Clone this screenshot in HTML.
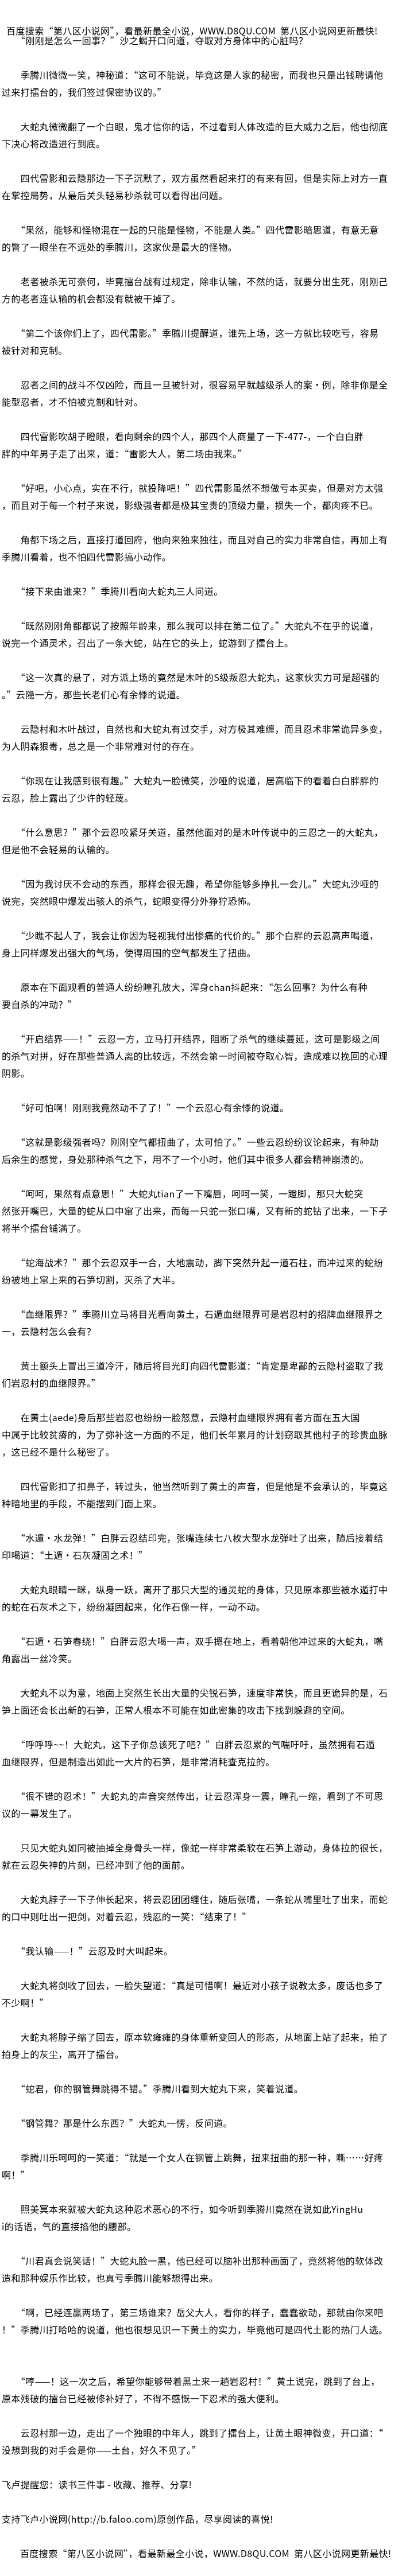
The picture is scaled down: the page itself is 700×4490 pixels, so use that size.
<!DOCTYPE html>
<html><head><meta charset="utf-8">
<style>
html,body{margin:0;padding:0;background:#fff;}
body{width:700px;height:4490px;position:relative;overflow:hidden;color:#000;
font-family:"Noto Sans CJK SC","Liberation Sans","WenQuanYi Zen Hei",sans-serif;font-size:16px;letter-spacing:0.4px;}
.hd{position:absolute;left:11px;top:38px;line-height:30px;white-space:pre;}
.tx{position:absolute;left:3px;top:55px;line-height:30px;white-space:pre;}
</style></head>
<body>
<div class="hd">百度搜索“第八区小说网”，看最新最全小说，WWW.D8QU.COM  第八区小说网更新最快!</div>
<div class="tx">　　“刚刚是怎么一回事？”沙之蝎开口问道，夺取对方身体中的心脏吗？

　　季腾川微微一笑，神秘道：“这可不能说，毕竟这是人家的秘密，而我也只是出钱聘请他
过来打擂台的，我们签过保密协议的。”

　　大蛇丸微微翻了一个白眼，鬼才信你的话，不过看到人体改造的巨大威力之后，他也彻底
下决心将改造进行到底。

　　四代雷影和云隐那边一下子沉默了，双方虽然看起来打的有来有回，但是实际上对方一直
在掌控局势，从最后关头轻易秒杀就可以看得出问题。

　　“果然，能够和怪物混在一起的只能是怪物，不能是人类。”四代雷影暗思道，有意无意
的瞥了一眼坐在不远处的季腾川，这家伙是最大的怪物。

　　老者被杀无可奈何，毕竟擂台战有过规定，除非认输，不然的话，就要分出生死，刚刚己
方的老者连认输的机会都没有就被干掉了。

　　“第二个该你们上了，四代雷影。”季腾川提醒道，谁先上场，这一方就比较吃亏，容易
被针对和克制。

　　忍者之间的战斗不仅凶险，而且一旦被针对，很容易早就越级杀人的案·例，除非你是全
能型忍者，才不怕被克制和针对。

　　四代雷影吹胡子瞪眼，看向剩余的四个人，那四个人商量了一下-477-，一个白白胖
胖的中年男子走了出来，道：“雷影大人，第二场由我来。”

　　“好吧，小心点，实在不行，就投降吧！”四代雷影虽然不想做亏本买卖，但是对方太强
，而且对于每一个村子来说，影级强者都是极其宝贵的顶级力量，损失一个，都肉疼不已。

　　角都下场之后，直接打道回府，他向来独来独往，而且对自己的实力非常自信，再加上有
季腾川看着，也不怕四代雷影搞小动作。

　　“接下来由谁来？”季腾川看向大蛇丸三人问道。

　　“既然刚刚角都都说了按照年龄来，那么我可以排在第二位了。”大蛇丸不在乎的说道，
说完一个通灵术，召出了一条大蛇，站在它的头上，蛇游到了擂台上。

　　“这一次真的悬了，对方派上场的竟然是木叶的S级叛忍大蛇丸，这家伙实力可是超强的
。”云隐一方，那些长老们心有余悸的说道。

　　云隐村和木叶战过，自然也和大蛇丸有过交手，对方极其难缠，而且忍术非常诡异多变，
为人阴森狠毒，总之是一个非常难对付的存在。

　　“你现在让我感到很有趣。”大蛇丸一脸微笑，沙哑的说道，居高临下的看着白白胖胖的
云忍，脸上露出了少许的轻蔑。

　　“什么意思？”那个云忍咬紧牙关道，虽然他面对的是木叶传说中的三忍之一的大蛇丸，
但是他不会轻易的认输的。

　　“因为我讨厌不会动的东西，那样会很无趣，希望你能够多挣扎一会儿。”大蛇丸沙哑的
说完，突然眼中爆发出骇人的杀气，蛇眼变得分外狰狞恐怖。

　　“少瞧不起人了，我会让你因为轻视我付出惨痛的代价的。”那个白胖的云忍高声喝道，
身上同样爆发出强大的气场，使得周围的空气都发生了扭曲。

　　原本在下面观看的普通人纷纷瞳孔放大，浑身chan抖起来：“怎么回事？为什么有种
要自杀的冲动？”

　　“开启结界——！”云忍一方，立马打开结界，阻断了杀气的继续蔓延，这可是影级之间
的杀气对拼，好在那些普通人离的比较远，不然会第一时间被夺取心智，造成难以挽回的心理
阴影。

　　“好可怕啊！刚刚我竟然动不了了！”一个云忍心有余悸的说道。

　　“这就是影级强者吗？刚刚空气都扭曲了，太可怕了。”一些云忍纷纷议论起来，有种劫
后余生的感觉，身处那种杀气之下，用不了一个小时，他们其中很多人都会精神崩溃的。

　　“呵呵，果然有点意思！”大蛇丸tian了一下嘴唇，呵呵一笑，一蹬脚，那只大蛇突
然张开嘴巴，大量的蛇从口中窜了出来，而每一只蛇一张口嘴，又有新的蛇钻了出来，一下子
将半个擂台铺满了。

　　“蛇海战术？”那个云忍双手一合，大地震动，脚下突然升起一道石柱，而冲过来的蛇纷
纷被地上窜上来的石笋切割，灭杀了大半。

　　“血继限界？”季腾川立马将目光看向黄土，石遁血继限界可是岩忍村的招牌血继限界之
一，云隐村怎么会有？

　　黄土额头上冒出三道冷汗，随后将目光盯向四代雷影道：“肯定是卑鄙的云隐村盗取了我
们岩忍村的血继限界。”

　　在黄土(aede)身后那些岩忍也纷纷一脸怒意，云隐村血继限界拥有者方面在五大国
中属于比较贫瘠的，为了弥补这一方面的不足，他们长年累月的计划窃取其他村子的珍贵血脉
，这已经不是什么秘密了。

　　四代雷影扣了扣鼻子，转过头，他当然听到了黄土的声音，但是他是不会承认的，毕竟这
种暗地里的手段，不能摆到门面上来。

　　“水遁·水龙弹！”白胖云忍结印完，张嘴连续七八枚大型水龙弹吐了出来，随后接着结
印喝道：“土遁·石灰凝固之术！”

　　大蛇丸眼睛一眯，纵身一跃，离开了那只大型的通灵蛇的身体，只见原本那些被水遁打中
的蛇在石灰术之下，纷纷凝固起来，化作石像一样，一动不动。

　　“石遁·石笋春绕！”白胖云忍大喝一声，双手摁在地上，看着朝他冲过来的大蛇丸，嘴
角露出一丝冷笑。

　　大蛇丸不以为意，地面上突然生长出大量的尖锐石笋，速度非常快，而且更诡异的是，石
笋上面还会长出新的石笋，正常人根本不可能在如此密集的攻击下找到躲避的空间。

　　“呼呼呼~~！大蛇丸，这下子你总该死了吧？”白胖云忍累的气喘吁吁，虽然拥有石遁
血继限界，但是制造出如此一大片的石笋，是非常消耗查克拉的。

　　“很不错的忍术！”大蛇丸的声音突然传出，让云忍浑身一震，瞳孔一缩，看到了不可思
议的一幕发生了。

　　只见大蛇丸如同被抽掉全身骨头一样，像蛇一样非常柔软在石笋上游动，身体拉的很长，
就在云忍失神的片刻，已经冲到了他的面前。

　　大蛇丸脖子一下子伸长起来，将云忍团团缠住，随后张嘴，一条蛇从嘴里吐了出来，而蛇
的口中则吐出一把剑，对着云忍，残忍的一笑：“结束了！”

　　“我认输——！”云忍及时大叫起来。

　　大蛇丸将剑收了回去，一脸失望道：“真是可惜啊！最近对小孩子说教太多，废话也多了
不少啊！”

　　大蛇丸将脖子缩了回去，原本软瘫瘫的身体重新变回人的形态，从地面上站了起来，拍了
拍身上的灰尘，离开了擂台。

　　“蛇君，你的钢管舞跳得不错。”季腾川看到大蛇丸下来，笑着说道。

　　“钢管舞？那是什么东西？”大蛇丸一愣，反问道。

　　季腾川乐呵呵的一笑道：“就是一个女人在钢管上跳舞，扭来扭曲的那一种，嘶……好疼
啊！”

　　照美冥本来就被大蛇丸这种忍术恶心的不行，如今听到季腾川竟然在说如此YingHu
i的话语，气的直接掐他的腰部。

　　“川君真会说笑话！”大蛇丸脸一黑，他已经可以脑补出那种画面了，竟然将他的软体改
造和那种娱乐作比较，也真亏季腾川能够想得出来。

　　“啊，已经连赢两场了，第三场谁来？岳父大人，看你的样子，蠢蠢欲动，那就由你来吧
！”季腾川打哈哈的说道，他也很想见识一下黄土的实力，毕竟他可是四代土影的热门人选。


　　“哼——！这一次之后，希望你能够带着黑土来一趟岩忍村！”黄土说完，跳到了台上，
原本残破的擂台已经被修补好了，不得不感慨一下忍术的强大便利。

　　云忍村那一边，走出了一个独眼的中年人，跳到了擂台上，让黄土眼神微变，开口道：“
没想到我的对手会是你——土台，好久不见了。”

飞卢提醒您：读书三件事 - 收藏、推荐、分享!

支持飞卢小说网(http://b.faloo.com)原创作品，尽享阅读的喜悦!

        百度搜索“第八区小说网”，看最新最全小说，WWW.D8QU.COM  第八区小说网更新最快!</div>
</body></html>
